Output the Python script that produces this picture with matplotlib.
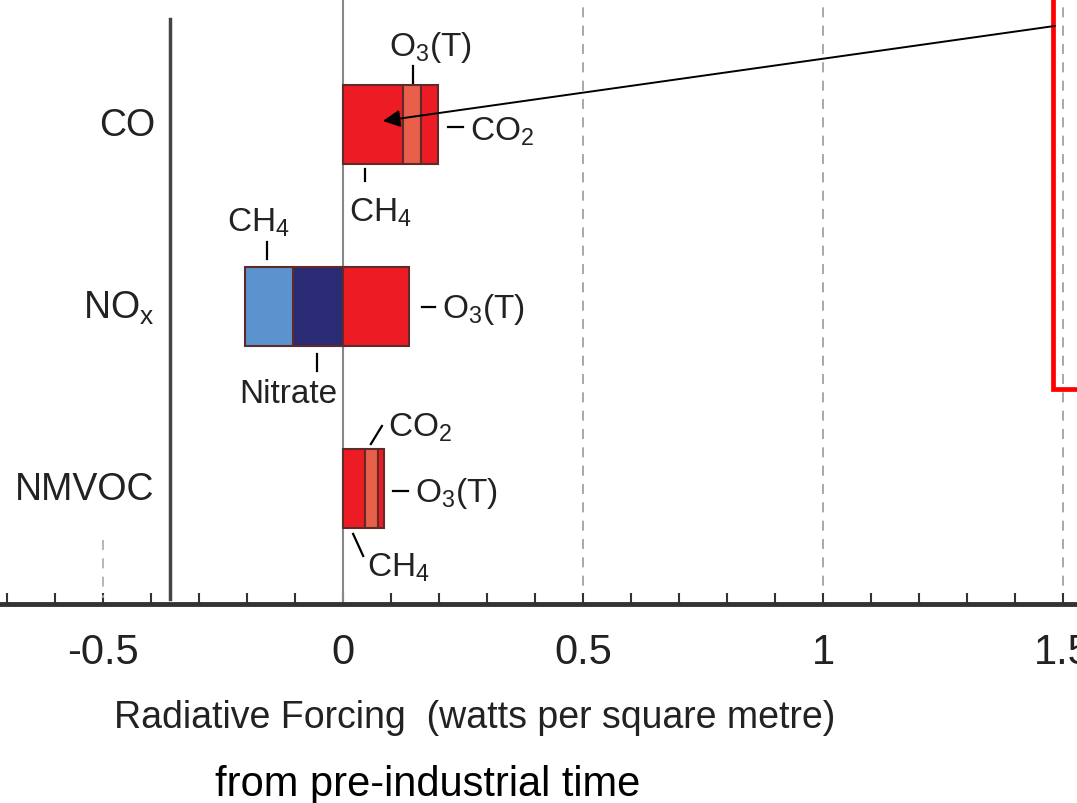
import matplotlib
matplotlib.use('Agg')
import matplotlib.pyplot as plt
from matplotlib.patches import Rectangle
from matplotlib import font_manager

plt.rcParams['font.family'] = ['Liberation Sans', 'DejaVu Sans']
plt.rcParams['mathtext.default'] = 'regular'

names = {f.name for f in font_manager.fontManager.ttflist}
narrow = 'Liberation Sans Narrow' if 'Liberation Sans Narrow' in names else 'Liberation Sans'

# categories top to bottom
categories = ['CO', 'NO$_x$', 'NMVOC']
# stacked segments (W/m2), drawn from zero outward
co_parts = ['CH$_4$', 'O$_3$(T)', 'CO$_2$']
co_vals = [0.125, 0.0375, 0.0355]
nox_neg_parts = ['Nitrate', 'CH$_4$']
nox_neg_vals = [-0.104, -0.100]
nox_pos_parts = ['O$_3$(T)']
nox_pos_vals = [0.138]
nmvoc_parts = ['CH$_4$', 'CO$_2$', 'O$_3$(T)']
nmvoc_vals = [0.046, 0.027, 0.012]

ticks = [-0.5, 0, 0.5, 1, 1.5]
tick_labels = ['-0.5', '0', '0.5', '1', '1.5']

red = '#ed1c24'
orange = '#e8604a'
lblue = '#5b93cf'
navy = '#2b2a74'
edge = '#5e2a2a'

fig = plt.figure(figsize=(10.77, 8.04), dpi=100)
ax = fig.add_axes([0, 0.2475, 1, 0.7525])
ax.set_xlim(-0.7146, 1.529)
ax.set_ylim(2.632, -0.692)

h = 0.434

def stack(y, vals, colors):
    left = 0
    for v, c in zip(vals, colors):
        ax.barh(y, v, left=left, height=h, color=c, edgecolor=edge, linewidth=1.5, zorder=3)
        left += v

stack(0, co_vals, [red, orange, red])
stack(1, nox_neg_vals, [navy, lblue])
stack(1, nox_pos_vals, [red])
stack(2, nmvoc_vals, [red, orange, red])

# reference lines
ax.axvline(0, color='#888888', lw=1.5, zorder=2)
for xv in [0.5, 1.0, 1.5]:
    ax.axvline(xv, color='#999999', lw=1.2, ls=(0, (6, 5)), zorder=1)
ax.plot([-0.5, -0.5], [2.28, 2.6], color='#aaaaaa', lw=1.2, ls=(0, (6, 5)))
ax.plot([-0.36, -0.36], [-0.582, 2.604], color='#444444', lw=2.5)

# category labels
for i, c in enumerate(categories):
    ax.text(-0.392, i, c, ha='right', va='center', fontsize=27, color='#222222')

fs = 24
lk = dict(color='black', lw=1.6)
tk = dict(fontsize=fs, family=[narrow, 'DejaVu Sans'], color='#222222')
# CO labels
ax.plot([0.146, 0.146], [-0.324, -0.225], **lk)
ax.text(0.181, -0.43, co_parts[1], ha='center', va='center', **tk)
ax.plot([0.219, 0.25], [0.011, 0.011], **lk)
ax.text(0.265, 0.03, co_parts[2], ha='left', va='center', **tk)
ax.plot([0.046, 0.046], [0.242, 0.308], **lk)
ax.text(0.077, 0.39, co_parts[0], ha='center', va='top', **tk)
# NOx labels
ax.plot([-0.158, -0.158], [0.643, 0.736], **lk)
ax.text(-0.177, 0.53, nox_neg_parts[1], ha='center', va='center', **tk)
ax.plot([-0.054, -0.054], [1.258, 1.352], **lk)
ax.text(-0.115, 1.478, nox_neg_parts[0], ha='center', va='center', **tk)
ax.plot([0.165, 0.192], [1.0, 1.0], **lk)
ax.text(0.206, 1.01, nox_pos_parts[0], ha='left', va='center', **tk)
# NMVOC labels
ax.plot([0.058, 0.081], [1.753, 1.654], **lk)
ax.text(0.094, 1.66, nmvoc_parts[1], ha='left', va='center', **tk)
ax.plot([0.104, 0.135], [2.011, 2.011], **lk)
ax.text(0.15, 2.02, nmvoc_parts[2], ha='left', va='center', **tk)
ax.plot([0.021, 0.042], [2.247, 2.368], **lk)
ax.text(0.05, 2.43, nmvoc_parts[0], ha='left', va='center', **tk)

# red box and arrow
ax.add_patch(Rectangle((1.478, -1.5), 1.0, 2.95, fill=False, edgecolor='#ff0000', lw=3.4, zorder=4))
ax.annotate('', xy=(0.083, -0.022), xytext=(1.483, -0.544),
            arrowprops=dict(arrowstyle='-|>', color='black', lw=1.4, mutation_scale=26, shrinkA=0, shrinkB=0),
            zorder=5)

# axes styling
for s in ['top', 'left', 'right']:
    ax.spines[s].set_visible(False)
ax.spines['bottom'].set_color('#333333')
ax.spines['bottom'].set_linewidth(3.5)
ax.set_yticks([])
ax.set_xticks(ticks)
ax.set_xticklabels(tick_labels, family=[narrow, 'DejaVu Sans'], fontsize=30, color='#222222')
ax.set_xticks([i / 10 for i in range(-7, 16)], minor=True)
ax.tick_params(axis='x', which='both', direction='in', length=8, width=1.5, color='#333333', pad=20)

fig.text(475 / 1077, 1 - 718 / 804, 'Radiative Forcing  (watts per square metre)',
         ha='center', va='center', fontsize=27, family=[narrow, 'DejaVu Sans'], color='#222222')
fig.text(428 / 1077, 1 - 785 / 804, 'from pre-industrial time', ha='center', va='center', fontsize=30, color='black')

fig.savefig('out.png', dpi=100)
